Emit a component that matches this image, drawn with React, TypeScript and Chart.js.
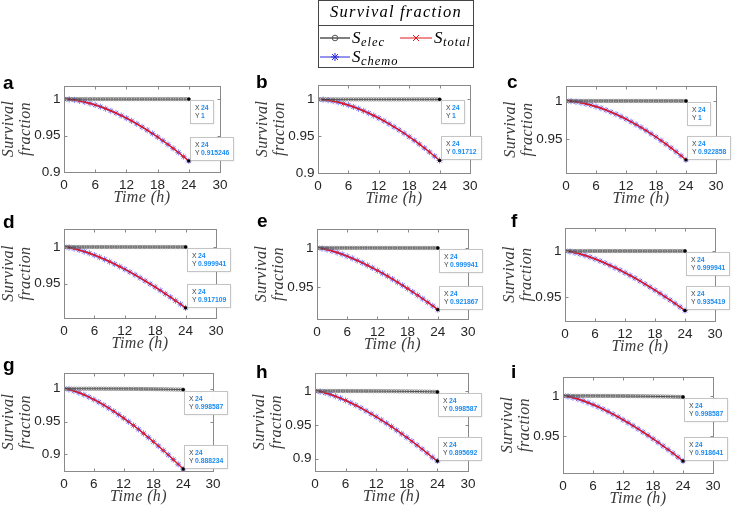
import React, { useEffect, useRef } from "react";
import { Chart, registerables } from "chart.js";

Chart.register(...registerables);

// ---------------- data ----------------
const HOURS = [0, 1, 2, 3, 4, 5, 6, 7, 8, 9, 10, 11, 12, 13, 14, 15, 16, 17, 18, 19, 20, 21, 22, 23, 24];
const HALF_HOURS = [0, 0.5, 1, 1.5, 2, 2.5, 3, 3.5, 4, 4.5, 5, 5.5, 6, 6.5, 7, 7.5, 8, 8.5, 9, 9.5, 10, 10.5, 11, 11.5, 12, 12.5, 13, 13.5, 14, 14.5, 15, 15.5, 16, 16.5, 17, 17.5, 18, 18.5, 19, 19.5, 20, 20.5, 21, 21.5, 22, 22.5, 23, 23.5, 24];
const X_TICKS = [0, 6, 12, 18, 24, 30];
const Y_TICKS = [0.9, 0.95, 1];
const PANEL_LETTERS = ["a", "b", "c", "d", "e", "f", "g", "h", "i"];

const ELEC_ABC = [1, 1, 1, 1, 1, 1, 1, 1, 1, 1, 1, 1, 1, 1, 1, 1, 1, 1, 1, 1, 1, 1, 1, 1, 1, 1, 1, 1, 1, 1, 1, 1, 1, 1, 1, 1, 1, 1, 1, 1, 1, 1, 1, 1, 1, 1, 1, 1, 1];
const ELEC_DEF = [1, 1, 1, 1, 1, 1, 1, 1, 1, 1, 1, 1, 1, 1, 1, 1, 1, 1, 1, 1, 1, 1, 0.99999, 0.99999, 0.99999, 0.99999, 0.99998, 0.99998, 0.99998, 0.99998, 0.99997, 0.99997, 0.99997, 0.99997, 0.99996, 0.99996, 0.99996, 0.99996, 0.99996, 0.99995, 0.99995, 0.99995, 0.99995, 0.99995, 0.99995, 0.99994, 0.99994, 0.99994, 0.999941];
const ELEC_GHI = [1, 1, 1, 1, 1, 1, 1, 1, 1, 1, 0.99999, 0.99999, 0.99998, 0.99998, 0.99997, 0.99996, 0.99995, 0.99994, 0.99993, 0.99991, 0.9999, 0.99988, 0.99986, 0.99984, 0.99982, 0.9998, 0.99978, 0.99975, 0.99972, 0.99969, 0.99966, 0.99962, 0.99958, 0.99954, 0.9995, 0.99945, 0.9994, 0.99935, 0.9993, 0.99924, 0.99918, 0.99912, 0.99905, 0.99898, 0.9989, 0.99882, 0.99874, 0.99866, 0.998587];

const TOTAL_A = [1, 0.9996, 0.9988, 0.9975, 0.996, 0.9941, 0.992, 0.9896, 0.9869, 0.984, 0.9809, 0.9775, 0.9739, 0.9701, 0.9661, 0.9619, 0.9574, 0.9528, 0.948, 0.943, 0.9378, 0.9324, 0.9269, 0.9211, 0.915246];
const TOTAL_B = [1, 0.9996, 0.9988, 0.9976, 0.9961, 0.9942, 0.9922, 0.9898, 0.9872, 0.9844, 0.9813, 0.978, 0.9745, 0.9708, 0.9669, 0.9627, 0.9584, 0.9539, 0.9492, 0.9443, 0.9392, 0.9339, 0.9285, 0.9229, 0.91712];
const TOTAL_C = [1, 0.9997, 0.9989, 0.9978, 0.9963, 0.9946, 0.9927, 0.9905, 0.9881, 0.9854, 0.9826, 0.9795, 0.9763, 0.9728, 0.9691, 0.9653, 0.9613, 0.9571, 0.9527, 0.9481, 0.9434, 0.9385, 0.9335, 0.9283, 0.922858];
const TOTAL_D = [1, 0.9992, 0.9978, 0.9959, 0.9938, 0.9915, 0.9889, 0.9861, 0.9832, 0.98, 0.9767, 0.9733, 0.9697, 0.9659, 0.9621, 0.9581, 0.9539, 0.9497, 0.9454, 0.9409, 0.9363, 0.9317, 0.9269, 0.9221, 0.917109];
const TOTAL_E = [1, 0.9992, 0.9979, 0.9962, 0.9942, 0.992, 0.9895, 0.9869, 0.9841, 0.9812, 0.978, 0.9748, 0.9714, 0.9679, 0.9643, 0.9605, 0.9566, 0.9526, 0.9485, 0.9443, 0.94, 0.9356, 0.9311, 0.9266, 0.921867];
const TOTAL_F = [1, 0.9994, 0.9982, 0.9968, 0.9952, 0.9934, 0.9914, 0.9892, 0.9869, 0.9844, 0.9819, 0.9792, 0.9764, 0.9735, 0.9705, 0.9674, 0.9641, 0.9608, 0.9574, 0.954, 0.9504, 0.9468, 0.9431, 0.9393, 0.935419];
const TOTAL_G = [1, 0.9988, 0.9967, 0.994, 0.9909, 0.9874, 0.9836, 0.9795, 0.9751, 0.9705, 0.9656, 0.9605, 0.9552, 0.9497, 0.944, 0.9381, 0.9319, 0.9257, 0.9193, 0.9127, 0.9059, 0.8991, 0.892, 0.8848, 0.8775];
const TOTAL_H = [1, 0.999, 0.9972, 0.9949, 0.9922, 0.9893, 0.986, 0.9825, 0.9788, 0.9749, 0.9707, 0.9663, 0.9618, 0.9571, 0.9523, 0.9473, 0.942, 0.9367, 0.9313, 0.9257, 0.9199, 0.9141, 0.9081, 0.902, 0.8965];
const TOTAL_I = [1, 0.9992, 0.9978, 0.996, 0.994, 0.9916, 0.9891, 0.9864, 0.9835, 0.9804, 0.9771, 0.9738, 0.9702, 0.9666, 0.9628, 0.9589, 0.9548, 0.9507, 0.9464, 0.942, 0.9375, 0.933, 0.9283, 0.9235, 0.918641];

// S_chemo is indistinguishable from S_total in every panel of the picture
const CHEMO_A = TOTAL_A, CHEMO_B = TOTAL_B, CHEMO_C = TOTAL_C;
const CHEMO_D = TOTAL_D, CHEMO_E = TOTAL_E, CHEMO_F = TOTAL_F;
const CHEMO_G = TOTAL_G, CHEMO_H = TOTAL_H, CHEMO_I = TOTAL_I;

const TIP_X_LABEL = "24";
const TIP_ELEC_VALUES = ["1", "1", "1", "0.999941", "0.999941", "0.999941", "0.998587", "0.998587", "0.998587"];
const TIP_TOTAL_VALUES = ["0.915246", "0.91712", "0.922858", "0.917109", "0.921867", "0.935419", "0.888234", "0.895692", "0.918641"];

const Y_MIN = [0.9, 0.9, 0.9056, 0.9033, 0.91, 0.924, 0.8745, 0.8817, 0.9037];
const Y_MAX = [1.018, 1.0195, 1.0196, 1.0245, 1.024, 1.025, 1.024, 1.0266, 1.0236];

const LEGEND_TITLE = "Survival fraction";
const LEGEND_ITEMS = [
  { base: "S", sub: "elec" },
  { base: "S", sub: "total" },
  { base: "S", sub: "chemo" },
];
const X_TITLE = "Time (h)";
const Y_TITLE = ["Survival", "fraction"];

const TOTALS = [TOTAL_A, TOTAL_B, TOTAL_C, TOTAL_D, TOTAL_E, TOTAL_F, TOTAL_G, TOTAL_H, TOTAL_I];
const CHEMOS = [CHEMO_A, CHEMO_B, CHEMO_C, CHEMO_D, CHEMO_E, CHEMO_F, CHEMO_G, CHEMO_H, CHEMO_I];
const ELECS = [ELEC_ABC, ELEC_ABC, ELEC_ABC, ELEC_DEF, ELEC_DEF, ELEC_DEF, ELEC_GHI, ELEC_GHI, ELEC_GHI];

// ---------------- layout ----------------
const PLOTS = [
  { l: 64, t: 86, r: 220, b: 172 },
  { l: 318, t: 85, r: 470, b: 173 },
  { l: 566, t: 86, r: 716, b: 173 },
  { l: 64, t: 229, r: 216, b: 318 },
  { l: 317, t: 229, r: 468, b: 319 },
  { l: 565, t: 228, r: 715, b: 321 },
  { l: 64, t: 373, r: 213, b: 471 },
  { l: 315, t: 373, r: 468, b: 471 },
  { l: 563, t: 377, r: 713, b: 473 },
];
const COLS = [{ x: 0, w: 245 }, { x: 248, w: 242 }, { x: 498, w: 235 }];
const ROWS = [{ y: 68, h: 140 }, { y: 208, h: 148 }, { y: 356, h: 155 }];
const LETTER_POS = [
  { x: 3, y: 89 }, { x: 256, y: 88 }, { x: 507, y: 88 },
  { x: 3, y: 228 }, { x: 257, y: 227 }, { x: 511, y: 227 },
  { x: 3, y: 371 }, { x: 256, y: 378 }, { x: 511, y: 378 },
];

function canvasRect(i) {
  const c = COLS[i % 3];
  const r = ROWS[Math.floor(i / 3)];
  if (i === 1) return { x: c.x, y: 0, w: c.w, h: r.y + r.h };
  return { x: c.x, y: r.y, w: c.w, h: r.h };
}

const SERIF = "'Liberation Serif', 'Times New Roman', serif";
const SANS = "'Liberation Sans', Arial, sans-serif";
const RED = "#e3161c";
const BLUE = "#2a2ad8";
const TIP_BLUE = "#1e8cf0";
const TITLE_COLOR = "#3a3a3a";

function drawMarker(ctx, kind, x, y) {
  ctx.save();
  ctx.lineWidth = 1;
  ctx.beginPath();
  if (kind === "circle") {
    ctx.strokeStyle = "#555";
    ctx.arc(x, y, 2.8, 0, Math.PI * 2);
  } else if (kind === "cross") {
    ctx.strokeStyle = RED;
    ctx.moveTo(x - 3, y - 3); ctx.lineTo(x + 3, y + 3);
    ctx.moveTo(x - 3, y + 3); ctx.lineTo(x + 3, y - 3);
  } else {
    ctx.strokeStyle = BLUE;
    ctx.moveTo(x - 4, y); ctx.lineTo(x + 4, y);
    ctx.moveTo(x, y - 4); ctx.lineTo(x, y + 4);
    ctx.moveTo(x - 3, y - 3); ctx.lineTo(x + 3, y + 3);
    ctx.moveTo(x - 3, y + 3); ctx.lineTo(x + 3, y - 3);
  }
  ctx.stroke();
  ctx.restore();
}

function drawSubLabel(ctx, item, x, baseY) {
  ctx.fillStyle = "#000";
  ctx.textAlign = "left";
  ctx.textBaseline = "alphabetic";
  ctx.font = `italic 17px ${SERIF}`;
  ctx.fillText(item.base, x, baseY);
  const w = ctx.measureText(item.base).width;
  ctx.font = `italic 12.5px ${SERIF}`;
  try { ctx.letterSpacing = "1px"; } catch (e) {}
  ctx.fillText(item.sub, x + w + 0.5, baseY + 3);
  try { ctx.letterSpacing = "0px"; } catch (e) {}
}

function drawLegend(ctx, ox, oy) {
  const X = (v) => v - ox;
  const Y = (v) => v - oy;
  ctx.save();
  ctx.fillStyle = "#fff";
  ctx.fillRect(X(318), Y(0), 155, 68);
  ctx.strokeStyle = "#444";
  ctx.lineWidth = 1;
  ctx.strokeRect(X(318.5), Y(0.5), 155, 67);
  ctx.beginPath();
  ctx.moveTo(X(318.5), Y(25.5));
  ctx.lineTo(X(473.5), Y(25.5));
  ctx.stroke();
  ctx.fillStyle = "#000";
  ctx.font = `italic 16.5px ${SERIF}`;
  ctx.textAlign = "center";
  ctx.textBaseline = "alphabetic";
  try { ctx.letterSpacing = "1.2px"; } catch (e) {}
  ctx.fillText(LEGEND_TITLE, X(396), Y(17));
  try { ctx.letterSpacing = "0px"; } catch (e) {}

  ctx.lineWidth = 1;
  ctx.strokeStyle = "#000";
  ctx.beginPath(); ctx.moveTo(X(320), Y(38)); ctx.lineTo(X(350), Y(38)); ctx.stroke();
  drawMarker(ctx, "circle", X(335), Y(38));
  drawSubLabel(ctx, LEGEND_ITEMS[0], X(352), Y(43));
  ctx.strokeStyle = RED;
  ctx.beginPath(); ctx.moveTo(X(400), Y(38)); ctx.lineTo(X(432), Y(38)); ctx.stroke();
  drawMarker(ctx, "cross", X(416), Y(38));
  drawSubLabel(ctx, LEGEND_ITEMS[1], X(434), Y(43));
  ctx.strokeStyle = BLUE;
  ctx.beginPath(); ctx.moveTo(X(320), Y(57)); ctx.lineTo(X(350), Y(57)); ctx.stroke();
  drawMarker(ctx, "star", X(335), Y(57));
  drawSubLabel(ctx, LEGEND_ITEMS[2], X(352), Y(62));
  ctx.restore();
}

function drawTip(ctx, px, py, value, below) {
  ctx.save();
  ctx.font = `bold 6.8px ${SANS}`;
  const vw = Math.max(ctx.measureText(TIP_X_LABEL).width, ctx.measureText(value).width);
  const w = Math.round(11 + vw + 4);
  const h = 23;
  const left = Math.round(px + 1);
  const top = below ? Math.round(py + 1) : Math.round(py - 1 - h);
  ctx.shadowColor = "rgba(0,0,0,0.12)";
  ctx.shadowBlur = 2;
  ctx.shadowOffsetX = 1;
  ctx.shadowOffsetY = 1;
  ctx.fillStyle = "rgba(255,255,255,0.97)";
  ctx.fillRect(left, top, w, h);
  ctx.shadowColor = "transparent";
  ctx.strokeStyle = "#c4c4c4";
  ctx.lineWidth = 1;
  ctx.strokeRect(left + 0.5, top + 0.5, w, h);
  ctx.textAlign = "left";
  ctx.textBaseline = "middle";
  ctx.font = `6.8px ${SANS}`;
  ctx.fillStyle = "#404040";
  ctx.fillText("X", left + 5, top + 8.5);
  ctx.fillText("Y", left + 5, top + 16.5);
  ctx.font = `bold 6.8px ${SANS}`;
  ctx.fillStyle = TIP_BLUE;
  ctx.fillText(TIP_X_LABEL, left + 11, top + 8.5);
  ctx.fillText(value, left + 11, top + 16.5);
  ctx.fillStyle = "#000";
  ctx.beginPath();
  ctx.arc(px, py, 1.7, 0, Math.PI * 2);
  ctx.fill();
  ctx.restore();
}

function makeConfig(i) {
  const P = PLOTS[i];
  const C = canvasRect(i);
  const padTop = P.t - C.y;
  const padRight = C.x + C.w - P.r;
  const yAxisW = P.l - C.x;
  const xAxisH = C.y + C.h - P.b;
  const elec = ELECS[i];
  const total = TOTALS[i];
  const chemo = CHEMOS[i];
  const ymin = Y_MIN[i];
  const ymax = Y_MAX[i];
  const yTicks = Y_TICKS.filter((v) => v >= ymin - 1e-9 && v <= ymax + 1e-9);

  const overlay = {
    id: "overlay",
    afterDatasetsDraw(chart) {
      const ctx = chart.ctx;
      const ca = chart.chartArea;
      const xs = chart.scales.x;
      const ys = chart.scales.y;
      ctx.save();
      ctx.strokeStyle = "#8a8a8a";
      ctx.lineWidth = 1;
      const L = Math.round(ca.left) + 0.5;
      const T = Math.round(ca.top) + 0.5;
      const R = Math.round(ca.right) + 0.5;
      const B = Math.round(ca.bottom) + 0.5;
      ctx.strokeRect(L, T, R - L, B - T);
      ctx.beginPath();
      X_TICKS.forEach((v) => {
        const px = Math.round(xs.getPixelForValue(v)) + 0.5;
        ctx.moveTo(px, B); ctx.lineTo(px, B - 3);
        ctx.moveTo(px, T); ctx.lineTo(px, T + 3);
      });
      yTicks.forEach((v) => {
        const py = Math.round(ys.getPixelForValue(v)) + 0.5;
        ctx.moveTo(L, py); ctx.lineTo(L + 3, py);
        ctx.moveTo(R, py); ctx.lineTo(R - 3, py);
      });
      ctx.stroke();
      ctx.restore();

      const p1x = xs.getPixelForValue(HALF_HOURS[HALF_HOURS.length - 1]);
      const p1y = ys.getPixelForValue(elec[elec.length - 1]);
      const p2x = xs.getPixelForValue(HOURS[HOURS.length - 1]);
      const p2y = ys.getPixelForValue(total[total.length - 1]);
      drawTip(ctx, p1x, p1y, TIP_ELEC_VALUES[i], true);
      drawTip(ctx, p2x, p2y, TIP_TOTAL_VALUES[i], false);
    },
    afterDraw(chart) {
      const ctx = chart.ctx;
      const ca = chart.chartArea;
      ctx.save();
      ctx.fillStyle = "#000";
      ctx.font = `bold 19px ${SANS}`;
      ctx.textAlign = "left";
      ctx.textBaseline = "alphabetic";
      ctx.fillText(PANEL_LETTERS[i], LETTER_POS[i].x - C.x, LETTER_POS[i].y - C.y);
      ctx.font = `italic 16px ${SERIF}`;
      ctx.textAlign = "center";
      ctx.fillStyle = TITLE_COLOR;
      try { ctx.letterSpacing = "0.4px"; } catch (e) {}
      ctx.fillText(X_TITLE, (ca.left + ca.right) / 2, ca.bottom + 29.5);
      const cy = (ca.top + ca.bottom) / 2;
      [ca.left - 51, ca.left - 34].forEach((bx, k) => {
        ctx.save();
        ctx.translate(bx, cy);
        ctx.rotate(-Math.PI / 2);
        ctx.fillText(Y_TITLE[k], 0, 0);
        ctx.restore();
      });
      try { ctx.letterSpacing = "0px"; } catch (e) {}
      ctx.restore();
      if (i === 1) drawLegend(ctx, C.x, C.y);
    },
  };

  return {
    type: "line",
    data: {
      datasets: [
        {
          label: "S_elec",
          data: HALF_HOURS.map((t, k) => ({ x: t, y: elec[k] })),
          borderColor: "#000",
          borderWidth: 0.8,
          pointStyle: "circle",
          pointRadius: 1.7,
          pointBorderColor: "#6a6a6a",
          pointBackgroundColor: "rgba(255,255,255,0)",
          pointBorderWidth: 0.7,
          order: 1,
        },
        {
          label: "S_total",
          data: HOURS.map((t, k) => ({ x: t, y: total[k] })),
          borderColor: RED,
          borderWidth: 1.3,
          pointStyle: "crossRot",
          pointRadius: 2,
          pointBorderColor: RED,
          pointBorderWidth: 0.8,
          order: 2,
        },
        {
          label: "S_chemo",
          data: HOURS.map((t, k) => ({ x: t, y: chemo[k] })),
          borderColor: BLUE,
          borderWidth: 1,
          pointStyle: "star",
          pointRadius: 3.1,
          pointBorderColor: "rgba(80,80,255,0.8)",
          pointBorderWidth: 0.9,
          order: 3,
        },
      ],
    },
    options: {
      animation: false,
      responsive: false,
      events: [],
      layout: { padding: { left: 0, top: padTop, right: padRight, bottom: 0 } },
      plugins: { legend: { display: false }, tooltip: { enabled: false }, title: { display: false } },
      scales: {
        x: {
          type: "linear",
          min: 0,
          max: 30,
          afterBuildTicks: (s) => { s.ticks = X_TICKS.map((v) => ({ value: v })); },
          afterFit: (s) => { s.height = xAxisH; },
          grid: { display: false, drawTicks: false },
          border: { display: false },
          ticks: {
            font: { family: SANS, size: 13.5 },
            color: "#262626",
            padding: 5,
            maxRotation: 0,
            autoSkip: false,
            callback: (v) => String(v),
          },
        },
        y: {
          type: "linear",
          min: ymin,
          max: ymax,
          afterBuildTicks: (s) => { s.ticks = yTicks.map((v) => ({ value: v })); },
          afterFit: (s) => { s.width = yAxisW; },
          grid: { display: false, drawTicks: false },
          border: { display: false },
          ticks: {
            font: { family: SANS, size: 13.5 },
            color: "#262626",
            padding: 3.5,
            autoSkip: false,
            callback: (v) => String(parseFloat(Number(v).toFixed(2))),
          },
        },
      },
    },
    plugins: [overlay],
  };
}

export default function App() {
  const refs = useRef([]);
  useEffect(() => {
    const charts = PANEL_LETTERS.map((_, i) => new Chart(refs.current[i], makeConfig(i)));
    return () => charts.forEach((c) => c.destroy());
  }, []);
  return (
    <div style={{ position: "absolute", left: 0, top: 0, width: 733, height: 511, background: "#fff", overflow: "hidden" }}>
      {PANEL_LETTERS.map((_, i) => {
        const c = canvasRect(i);
        return (
          <canvas
            key={i}
            ref={(el) => { refs.current[i] = el; }}
            width={c.w}
            height={c.h}
            style={{ position: "absolute", left: c.x, top: c.y, width: c.w, height: c.h }}
          />
        );
      })}
    </div>
  );
}
